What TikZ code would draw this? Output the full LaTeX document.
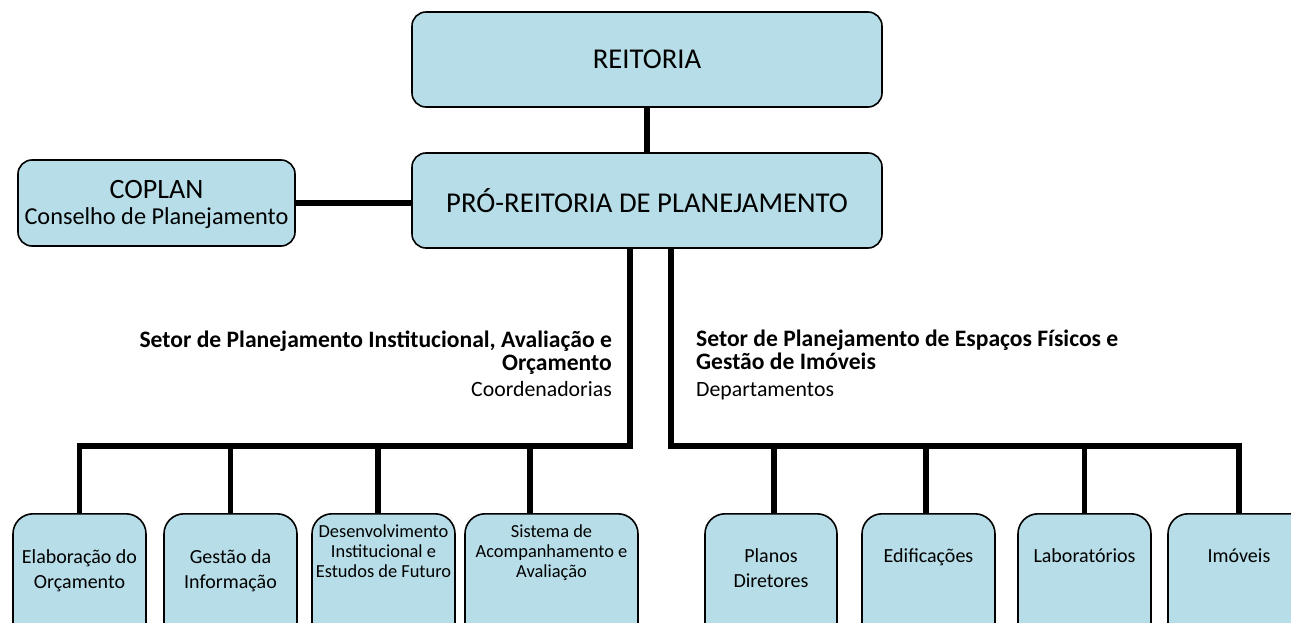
\documentclass[tikz,border=0pt]{standalone}
\usepackage{fontspec}
\setmainfont{Carlito}
\definecolor{boxfill}{HTML}{B7DEE8}
\newcommand{\cstack}[1]{\begin{tabular}[t]{@{}c@{}}#1\end{tabular}}
\newcommand{\rstack}[1]{\begin{tabular}[t]{@{}r@{}}#1\end{tabular}}
\newcommand{\lstack}[1]{\begin{tabular}[t]{@{}l@{}}#1\end{tabular}}
\begin{document}
\begin{tikzpicture}[x=1pt,y=-1pt,
  box/.style={draw=black, line width=1.6pt, fill=boxfill, rounded corners=14pt, inner sep=0pt},
  topbox/.style={box, minimum width=470pt, minimum height=95pt, font=\fontsize{28.7}{33}\selectfont},
  lowbox/.style={box, rounded corners=20pt, minimum height=150pt, anchor=north},
  conn/.style={line width=5.5pt},
  bigtxt/.style={inner sep=0pt, anchor=base, font=\fontsize{20}{25}\selectfont},
  smalltxt/.style={inner sep=0pt, anchor=base, font=\fontsize{18.4}{20}\selectfont},
  boldlab/.style={inner sep=0pt, font=\fontsize{23.6}{23}\selectfont\bfseries},
  labtxt/.style={inner sep=0pt, font=\fontsize{21.8}{24}\selectfont}]
\useasboundingbox (0,0) rectangle (1291,623);

% top boxes
\node[topbox] (reit) at (647,59.5) {REITORIA};
\node[topbox] (pro) at (647,200.5) {PRÓ-REITORIA DE PLANEJAMENTO};
\node[box, minimum width=277pt, minimum height=86pt] (cop) at (156.5,203) {};
\node[inner sep=0pt, anchor=base, font=\fontsize{24.3}{26}\selectfont] (coptxt) at (cop.center |- 0,198)
      {\cstack{{\fontsize{28}{30}\selectfont COPLAN}\\Conselho de Planejamento}};

% bottom boxes
\node[lowbox, minimum width=133pt] (b1) at (79.5,513) {};
\node[lowbox, minimum width=133pt] (b2) at (230.5,513) {};
\node[lowbox, minimum width=143pt] (b3) at (383.5,513) {};
\node[lowbox, minimum width=173pt] (b4) at (551.5,513) {};
\node[lowbox, minimum width=132pt] (b5) at (771,513) {};
\node[lowbox, minimum width=133pt] (b6) at (928.5,513) {};
\node[lowbox, minimum width=133pt] (b7) at (1084.5,513) {};
\node[lowbox, minimum width=142pt] (b8) at (1239,513) {};

% bottom texts
\node[bigtxt] (t1) at (b1.north |- 0,563) {\cstack{Elaboração do\\Orçamento}};
\node[bigtxt] (t2) at (b2.north |- 0,563) {\cstack{Gestão da\\Informação}};
\node[smalltxt] (t3) at (b3.north |- 0,537) {\cstack{Desenvolvimento\\Institucional e\\Estudos de Futuro}};
\node[smalltxt] (t4) at (b4.north |- 0,537) {\cstack{Sistema de\\Acompanhamento e\\Avaliação}};
\node[bigtxt] (t5) at (b5.north |- 0,562) {\cstack{Planos\\Diretores}};
\node[bigtxt] (t6) at (b6.north |- 0,562) {Edificações};
\node[bigtxt] (t7) at (b7.north |- 0,562) {Laboratórios};
\node[bigtxt] (t8) at (b8.north |- 0,562) {Imóveis};

% sector labels
\node[boldlab, anchor=base east] (lsec) at (612,347) {\rstack{Setor de Planejamento Institucional, Avaliação e\\Orçamento}};
\node[labtxt, anchor=base east] (lcoord) at (612,396) {Coordenadorias};
\node[boldlab, anchor=base west] (rsec) at (696,346) {\lstack{Setor de Planejamento de Espaços Físicos e\\Gestão de Imóveis}};
\node[labtxt, anchor=base west] (rdep) at (696,396) {Departamentos};

% connectors
\coordinate (busL) at (630,446);
\coordinate (busR) at (671,446);
\draw[conn] (reit.south) -- (pro.north);
\draw[conn] (cop.east) -- (cop.east -| pro.west);
\draw[conn] (pro.south -| busL) -- (busL) -- (busL -| b1.north) -- (b1.north);
\draw[conn] (busL -| b2.north) -- (b2.north);
\draw[conn] ([xshift=-5.5pt]busL -| b3.north) -- ([xshift=-5.5pt]b3.north);
\draw[conn] ([xshift=-21.5pt]busL -| b4.north) -- ([xshift=-21.5pt]b4.north);
\draw[conn] (pro.south -| busR) -- (busR) -- (busR -| b8.north) -- (b8.north);
\draw[conn] ([xshift=3pt]busR -| b5.north) -- ([xshift=3pt]b5.north);
\draw[conn] ([xshift=-2.5pt]busR -| b6.north) -- ([xshift=-2.5pt]b6.north);
\draw[conn] (busR -| b7.north) -- (b7.north);
\end{tikzpicture}
\end{document}
